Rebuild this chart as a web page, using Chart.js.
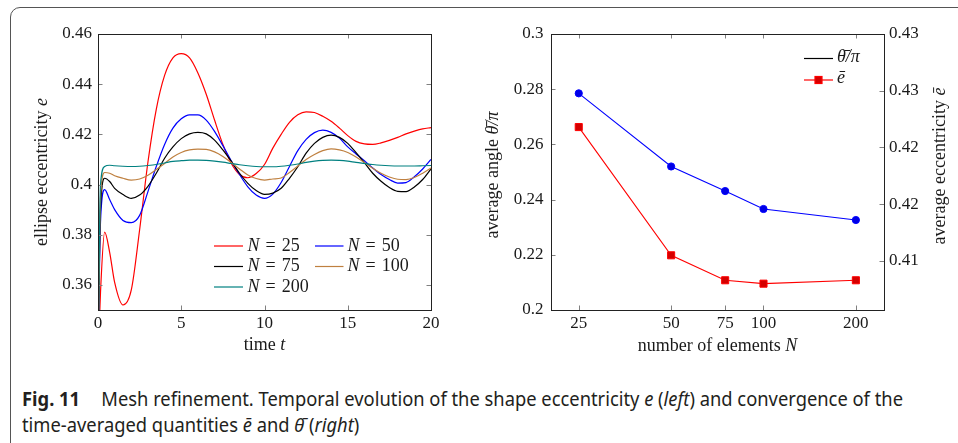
<!DOCTYPE html>
<html>
<head>
<meta charset="utf-8">
<title>Mesh refinement</title>
<script src="https://cdn.jsdelivr.net/npm/chart.js"></script>
<style>
    body { margin: 0; background: #fff; }
    #page { position: relative; width: 958px; height: 443px; overflow: hidden; }
    #frame { position: absolute; left: 10px; top: 7px; width: 1000px; height: 600px;
             border: 1.4px solid #555; border-radius: 10px; }
    #leftChart { position: absolute; left: 0; top: 0; }
    #rightChart { position: absolute; left: 450px; top: 0; }
    #caption { position: absolute; left: 22px; top: 386px; font-family: "Noto Sans", sans-serif;
               font-size: 19px; line-height: 26px; color: #231f20; white-space: nowrap;
               transform-origin: 0 0; }
    #caption b { margin-right: 22px; }
</style>
</head>
<body>
<div id="page">
    <div id="frame"></div>
    <canvas id="leftChart" width="450" height="360"></canvas>
    <canvas id="rightChart" width="508" height="360"></canvas>
    <div id="caption">
        <div><span id="cap1"><b>Fig. 11</b>Mesh refinement. Temporal evolution of the shape eccentricity <i>e</i> (<i>left</i>) and convergence of the</span></div>
        <div><span id="cap2">time-averaged quantities <i>ē</i> and <i>θ̄</i> (<i>right</i>)</span></div>
    </div>
</div>

<script>
    // ---- left panel: eccentricity e over time t ----
    const timeT = [0, 0.15, 0.4, 0.7, 1, 1.5, 2, 2.5, 3, 3.5, 4, 4.5, 5, 5.5, 6, 6.5, 7, 7.5, 8, 8.5,
                   9, 9.5, 10, 10.5, 11, 11.5, 12, 12.5, 13, 13.5, 14, 14.5, 15, 15.5, 16, 16.5,
                   17, 17.5, 18, 18.5, 19, 19.5, 20];
    const e25 = [0.33, 0.357, 0.381, 0.373, 0.361, 0.352, 0.358, 0.382, 0.409, 0.430, 0.4435, 0.4505,
                 0.4522, 0.4505, 0.4445, 0.436, 0.4257, 0.416, 0.4085, 0.404, 0.4027, 0.4044, 0.408,
                 0.4145, 0.420, 0.4248, 0.4278, 0.429, 0.4287, 0.4272, 0.4252, 0.4225, 0.4195,
                 0.4172, 0.4162, 0.416, 0.4166, 0.4176, 0.4188, 0.4202, 0.4213, 0.4222, 0.4227];
    const e50 = [0.33, 0.385, 0.398, 0.394, 0.390, 0.3857, 0.3848, 0.3877, 0.3972, 0.4072, 0.4160,
                 0.4225, 0.4262, 0.4278, 0.4278, 0.4257, 0.4212, 0.4155, 0.4095, 0.4040, 0.3991,
                 0.3958, 0.3945, 0.3962, 0.4008, 0.4072, 0.4135, 0.418, 0.4207, 0.4217, 0.4208,
                 0.4185, 0.415, 0.4122, 0.4095, 0.4066, 0.4040, 0.402, 0.4006, 0.4008, 0.4031,
                 0.4062, 0.4100];
    const e75 = [0.33, 0.39, 0.4025, 0.4012, 0.3985, 0.396, 0.3945, 0.3958, 0.3993, 0.4045, 0.4105,
                 0.4150, 0.4183, 0.4202, 0.4208, 0.4202, 0.4177, 0.4138, 0.4093, 0.4045, 0.4005,
                 0.3976, 0.3961, 0.3966, 0.3985, 0.4025, 0.4071, 0.4125, 0.4164, 0.4188, 0.4197,
                 0.4188, 0.4164, 0.4127, 0.4087, 0.4045, 0.4013, 0.3988, 0.3973, 0.3972, 0.3990,
                 0.4020, 0.4062];
    const e100 = [0.33, 0.395, 0.4048, 0.4045, 0.4035, 0.4025, 0.4018, 0.4022, 0.4037, 0.4060, 0.4084,
                  0.4110, 0.4128, 0.4138, 0.4141, 0.4140, 0.4130, 0.4112, 0.4088, 0.4062, 0.4038,
                  0.4024, 0.4018, 0.4022, 0.4026, 0.4048, 0.4074, 0.4100, 0.4120, 0.4135, 0.4142,
                  0.4138, 0.4128, 0.4110, 0.4088, 0.4065, 0.4045, 0.4030, 0.4021, 0.4020, 0.4028,
                  0.4045, 0.4066];
    const e200 = [0.33, 0.40, 0.4072, 0.4077, 0.4075, 0.4073, 0.4072, 0.4073, 0.4076, 0.4080, 0.4086,
                  0.4092, 0.4095, 0.4097, 0.4097, 0.4096, 0.4093, 0.4089, 0.4084, 0.4079, 0.4075,
                  0.4072, 0.4071, 0.4071, 0.4073, 0.4077, 0.4082, 0.4088, 0.4093, 0.4096, 0.4097,
                  0.4096, 0.4093, 0.4088, 0.4084, 0.4080, 0.4077, 0.4075, 0.4074, 0.4074, 0.4074,
                  0.4075, 0.4076];
    const seriesN = [25, 50, 75, 100, 200];
    const seriesColors = ['#ff0000', '#0000ff', '#000000', '#bf8040', '#008080'];
    const leftSeries = [e25, e50, e75, e100, e200];

    const timeTicks = [0, 5, 10, 15, 20];
    const eccTicks = [0.36, 0.38, 0.40, 0.42, 0.44, 0.46];
    const eccTickLabels = ['0.36', '0.38', '0.4', '0.42', '0.44', '0.46'];

    // ---- right panel: averages against number of elements ----
    const nElements = [25, 50, 75, 100, 200];
    const thetaMean = [0.2785, 0.2520, 0.2431, 0.2366, 0.2326];
    const eMean = [0.4218, 0.4105, 0.4083, 0.4080, 0.4083];

    const angleTicks = [0.2, 0.22, 0.24, 0.26, 0.28, 0.3];
    const angleTickLabels = ['0.2', '0.22', '0.24', '0.26', '0.28', '0.3'];
    const meanEccTicks = [0.41, 0.415, 0.42, 0.425, 0.43];
    const meanEccTickLabels = ['0.41', '0.42', '0.42', '0.43', '0.43'];

    const SERIF = '"Liberation Serif", "DejaVu Serif", serif';
    const TICK = 4.5;

    function serifFont(size, italic) {
        return (italic ? 'italic ' : '') + size + 'px ' + SERIF;
    }

    // draw text made of upright / italic pieces, centred on (x, y)
    function drawRich(ctx, parts, x, y, rot, size, align) {
        ctx.save();
        ctx.translate(x, y);
        ctx.rotate(rot || 0);
        ctx.textBaseline = 'middle';
        ctx.textAlign = 'left';
        ctx.fillStyle = '#1a1a1a';
        let w = 0;
        parts.forEach(p => { ctx.font = serifFont(size, p[1]); w += ctx.measureText(p[0]).width; });
        let cx = align === 'left' ? 0 : -w / 2;
        parts.forEach(p => {
            ctx.font = serifFont(size, p[1]);
            ctx.fillText(p[0], cx, 0);
            cx += ctx.measureText(p[0]).width;
        });
        ctx.restore();
    }

    // box around the plot and inward tick marks, pgfplots style
    function frameAndTicks(spec) {
        return {
            id: 'frameAndTicks',
            afterDraw(chart) {
                const ctx = chart.ctx, a = chart.chartArea;
                ctx.save();
                ctx.strokeStyle = '#808080';
                ctx.lineWidth = 1;
                ctx.beginPath();
                spec.forEach(([id, values, sides]) => {
                    const s = chart.scales[id];
                    values.forEach(v => {
                        const p = Math.round(s.getPixelForValue(v)) + 0.5;
                        sides.forEach(side => {
                            if (side === 'bottom') { ctx.moveTo(p, a.bottom); ctx.lineTo(p, a.bottom - TICK); }
                            if (side === 'top') { ctx.moveTo(p, a.top); ctx.lineTo(p, a.top + TICK); }
                            if (side === 'left') { ctx.moveTo(a.left, p); ctx.lineTo(a.left + TICK, p); }
                            if (side === 'right') { ctx.moveTo(a.right, p); ctx.lineTo(a.right - TICK, p); }
                        });
                    });
                });
                ctx.stroke();
                ctx.strokeStyle = '#222';
                ctx.strokeRect(a.left + 0.5, a.top + 0.5, a.right - a.left, a.bottom - a.top);
                ctx.restore();
            }
        };
    }

    function axisOpts(extra) {
        return Object.assign({
            grid: { display: false, drawTicks: false },
            border: { display: false },
        }, extra);
    }

    const tickFont = { family: SERIF, size: 17 };

    // left chart
    new Chart(document.getElementById('leftChart'), {
        type: 'line',
        data: {
            datasets: seriesN.map((n, k) => ({
                label: 'N = ' + n,
                data: timeT.map((t, i) => ({ x: t, y: leftSeries[k][i] })),
                borderColor: seriesColors[k],
                borderWidth: 1.2,
                pointRadius: 0,
                cubicInterpolationMode: 'monotone',
                fill: false,
                order: 4 - k
            }))
        },
        options: {
            responsive: false,
            animation: false,
            layout: { padding: { left: 0, right: 19, top: 34, bottom: 0 } },
            plugins: { legend: { display: false }, tooltip: { enabled: false } },
            scales: {
                x: axisOpts({
                    type: 'linear', min: 0, max: 20,
                    afterBuildTicks: s => { s.ticks = timeTicks.map(v => ({ value: v })); },
                    afterFit: s => { s.height = 50; },
                    ticks: { font: tickFont, color: '#1a1a1a', padding: 3, maxRotation: 0, autoSkip: false,
                             callback: v => String(v) }
                }),
                y: axisOpts({
                    min: 0.35, max: 0.46,
                    afterBuildTicks: s => { s.ticks = eccTicks.map(v => ({ value: v })); },
                    afterFit: s => { s.width = 98; },
                    ticks: { font: tickFont, color: '#1a1a1a', padding: 6, autoSkip: false,
                             callback: (v, i) => eccTickLabels[i] }
                })
            }
        },
        plugins: [
            frameAndTicks([['x', timeTicks, ['bottom', 'top']], ['y', eccTicks, ['left', 'right']]]),
            {
                id: 'leftText',
                afterDraw(chart) {
                    const ctx = chart.ctx, a = chart.chartArea;
                    drawRich(ctx, [['time ', false], ['t', true]], (a.left + a.right) / 2, 345, 0, 18);
                    drawRich(ctx, [['ellipse eccentricity ', false], ['e', true]], 42, (a.top + a.bottom) / 2, -Math.PI / 2, 18);
                    // legend in two columns
                    const cols = [[214, 243, 247.5], [315, 343.5, 347.5]];
                    const rows = [246, 266.5, 287];
                    chart.data.datasets.forEach((ds, k) => {
                        const c = cols[k % 2], y = rows[Math.floor(k / 2)];
                        ctx.save();
                        ctx.strokeStyle = ds.borderColor;
                        ctx.lineWidth = 1.2;
                        ctx.beginPath();
                        ctx.moveTo(c[0], y);
                        ctx.lineTo(c[1], y);
                        ctx.stroke();
                        ctx.restore();
                        const rest = ds.label.slice(1).replace(/ /g, '\u2004');
                        drawRich(ctx, [['N', true], [rest, false]], c[2], y, 0, 18, 'left');
                    });
                }
            }
        ]
    });

    // right chart
    new Chart(document.getElementById('rightChart'), {
        type: 'line',
        data: {
            datasets: [
                {
                    label: 'θ̄/π',
                    data: nElements.map((n, i) => ({ x: n, y: thetaMean[i] })),
                    yAxisID: 'y',
                    borderColor: '#0000ff',
                    backgroundColor: '#0000e6',
                    borderWidth: 1.1,
                    pointStyle: 'circle',
                    pointRadius: 3.6,
                    pointBorderWidth: 1,
                    tension: 0
                },
                {
                    label: 'ē',
                    data: nElements.map((n, i) => ({ x: n, y: eMean[i] })),
                    yAxisID: 'y1',
                    borderColor: '#ff0000',
                    backgroundColor: '#d40000',
                    borderWidth: 1.1,
                    pointStyle: 'rect',
                    pointRadius: 5,
                    pointBorderWidth: 1,
                    tension: 0
                }
            ]
        },
        options: {
            responsive: false,
            animation: false,
            layout: { padding: { left: 0, right: 0, top: 34, bottom: 0 } },
            plugins: { legend: { display: false }, tooltip: { enabled: false } },
            scales: {
                x: axisOpts({
                    type: 'logarithmic', min: 20.3, max: 247,
                    afterBuildTicks: s => { s.ticks = nElements.map(v => ({ value: v })); },
                    afterFit: s => { s.height = 50; },
                    ticks: { font: tickFont, color: '#1a1a1a', padding: 3, maxRotation: 0, autoSkip: false,
                             callback: v => String(v) }
                }),
                y: axisOpts({
                    position: 'left', min: 0.2, max: 0.3,
                    afterBuildTicks: s => { s.ticks = angleTicks.map(v => ({ value: v })); },
                    afterFit: s => { s.width = 101; },
                    ticks: { font: tickFont, color: '#1a1a1a', padding: 7.5, autoSkip: false,
                             callback: (v, i) => angleTickLabels[i] }
                }),
                y1: axisOpts({
                    position: 'right', min: 0.40568, max: 0.43,
                    afterBuildTicks: s => { s.ticks = meanEccTicks.map(v => ({ value: v })); },
                    afterFit: s => { s.width = 74; },
                    ticks: { font: tickFont, color: '#1a1a1a', padding: 5, autoSkip: false,
                             callback: (v, i) => meanEccTickLabels[i] }
                })
            }
        },
        plugins: [
            frameAndTicks([['x', nElements, ['bottom', 'top']], ['y', angleTicks, ['left']], ['y1', meanEccTicks, ['right']]]),
            {
                id: 'rightText',
                afterDraw(chart) {
                    const ctx = chart.ctx, a = chart.chartArea;
                    drawRich(ctx, [['number of elements ', false], ['N', true]], (a.left + a.right) / 2, 346, 0, 18);
                    drawRich(ctx, [['average angle ', false], ['θ̄/π', true]], 43, 175, -Math.PI / 2, 18);
                    drawRich(ctx, [['average eccentricity ', false], ['ē', true]], 490, 166, -Math.PI / 2, 18);
                    // legend: first entry is a plain black line, second has the square mark
                    ctx.save();
                    ctx.lineWidth = 1.2;
                    ctx.strokeStyle = '#000';
                    ctx.beginPath(); ctx.moveTo(354, 58.5); ctx.lineTo(383, 58.5); ctx.stroke();
                    ctx.strokeStyle = '#ff0000';
                    ctx.beginPath(); ctx.moveTo(354, 80); ctx.lineTo(383, 80); ctx.stroke();
                    ctx.fillStyle = '#d40000';
                    ctx.fillRect(365, 76.5, 7, 7);
                    ctx.strokeRect(365, 76.5, 7, 7);
                    ctx.restore();
                    drawRich(ctx, [[chart.data.datasets[0].label, true]], 387, 57, 0, 18, 'left');
                    drawRich(ctx, [[chart.data.datasets[1].label, true]], 387, 78, 0, 18, 'left');
                }
            }
        ]
    });

    // caption: squeeze to the condensed width of the original
    const cap = document.getElementById('caption');
    const w1 = document.getElementById('cap1').getBoundingClientRect().width;
    cap.style.transform = 'scaleX(' + (881 / w1) + ')';
</script>
</body>
</html>
